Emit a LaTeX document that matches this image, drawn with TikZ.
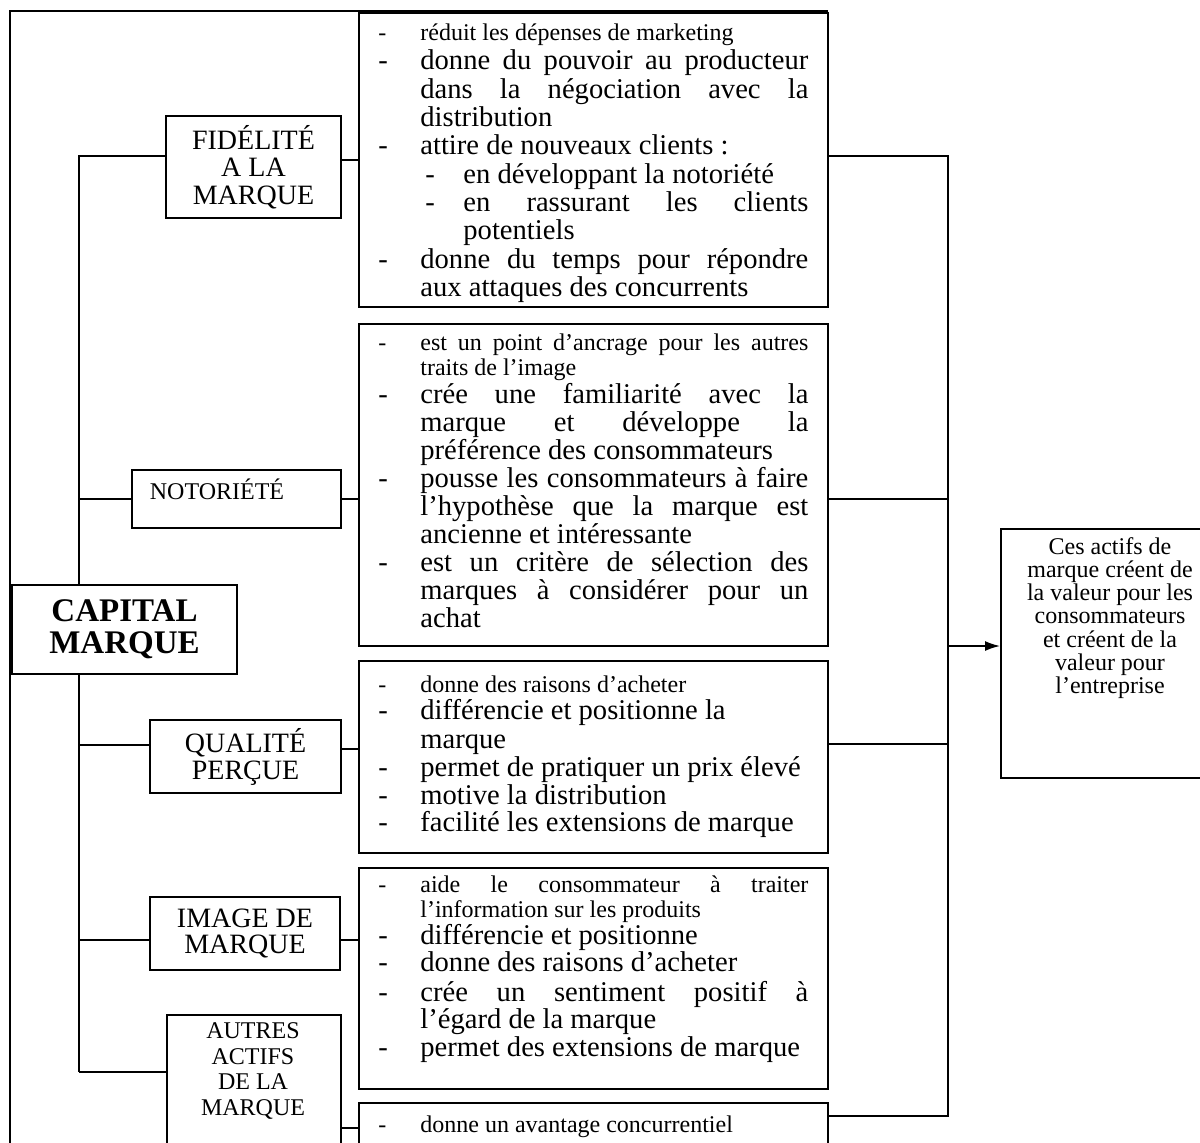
\documentclass[tikz,border=0pt]{standalone}
\usepackage{fontspec}
\setmainfont{Liberation Serif}
\usetikzlibrary{arrows.meta}

% list-line helpers for the text boxes
\newcommand\bxjust[1]{\makebox[194pt][s]{#1}}
\newcommand\bxsjust[1]{\makebox[172.5pt][s]{#1}}
\newcommand\bxdash[1]{\makebox[21pt][l]{-}#1}
\newcommand\bxcont[1]{\hspace*{21pt}#1}
\newcommand\bxsubdash[1]{\hspace*{23.5pt}\makebox[19pt][l]{-}#1}
\newcommand\bxsubcont[1]{\hspace*{42.5pt}#1}

\tikzset{
  frame/.style={line width=0.9pt},
  box/.style={draw, line width=0.8pt, inner sep=0pt, fill=white},
  lbl/.style={box, align=center, font=\fontsize{14}{13.75}\selectfont},
  ln/.style={anchor=base west, inner sep=0pt, font=\fontsize{14.3}{14}\selectfont},
  lns/.style={ln, font=\fontsize{12}{12}\selectfont},
  link/.style={line width=0.8pt},
}

\begin{document}
\begin{tikzpicture}[x=0.5pt, y=-0.5pt]
\useasboundingbox (0,0) rectangle (1200,1142);
\clip (0,0) rectangle (1200,1142);

% outer frame
\draw[frame] (10,1160) -- (10,11) -- (828,11);

% junction points of the two buses
\coordinate (tb) at (79,1072);
\coordinate (bt) at (948,156);
\coordinate (bb) at (948,1116);
\coordinate (bj2) at (948,499);
\coordinate (bj3) at (948,744);
\coordinate (ba) at (948,646);

% detail boxes
\node[box, anchor=north west, minimum width=234.5pt, minimum height=147pt] (b1) at (358,12) {};
\node[box, anchor=north west, minimum width=234.5pt, minimum height=161pt] (b2) at (358,323) {};
\node[box, anchor=north west, minimum width=234.5pt, minimum height=96pt] (b3) at (358,660) {};
\node[box, anchor=north west, minimum width=234.5pt, minimum height=110.5pt] (b4) at (358,867) {};
\node[box, anchor=north west, minimum width=234.5pt, minimum height=34pt] (b5) at (358,1102) {};

% category boxes
\node[lbl, minimum width=87.5pt, minimum height=51pt] (fid) at (253.5,167) {FIDÉLITÉ\\A LA\\MARQUE};
\node[box, minimum width=104.5pt, minimum height=29pt] (not) at (236.5,499) {};
\node[anchor=base, inner sep=0pt, font=\fontsize{12}{12}\selectfont] (notlbl) at (217,499) {NOTORIÉTÉ};
\node[lbl, minimum width=112.5pt, minimum height=44.5pt, font=\bfseries\fontsize{16.5}{16}\selectfont] (cap) at (124.5,629.5) {CAPITAL\\MARQUE};
\node[lbl, minimum width=95.5pt, minimum height=36.5pt, font=\fontsize{14}{13.5}\selectfont] (qual) at (245.5,756.5) {QUALITÉ\\PERÇUE};
\node[lbl, minimum width=95pt, minimum height=36.5pt, font=\fontsize{14}{13}\selectfont] (img) at (245,933.5) {IMAGE DE\\MARQUE};
\node[box, anchor=north west, minimum width=87pt, minimum height=75pt] (aut) at (166,1014) {};
\node[align=center, inner sep=0pt, font=\fontsize{12}{12.75}\selectfont] (autlbl) at (253,1071) {AUTRES\\ACTIFS\\DE LA\\MARQUE};

% result box
\node[box, anchor=north west, minimum width=110pt, minimum height=124.5pt] (val) at (1000,528) {};
\node[align=center, inner sep=0pt, font=\fontsize{12}{11.65}\selectfont] (valtxt) at (1110,618)
  {Ces actifs de\\marque créent de\\la valeur pour les\\consommateurs\\et créent de la\\valeur pour\\l’entreprise};

% left trunk, interrupted by the title box
\draw[link] ([yshift=5.5pt]fid.west) -| (cap.north -| tb);
\draw[link] (cap.south -| tb) -- (tb);

% branches from the trunk
\draw[link] (not.west) -- (not.west -| tb);
\draw[link] ([yshift=5.75pt]qual.west) -- ([yshift=5.75pt]qual.west -| tb);
\draw[link] ([yshift=-3.25pt]img.west) -- ([yshift=-3.25pt]img.west -| tb);
\draw[link] (tb) -- (aut.west |- tb);

% category -> detail links
\draw[link] ([yshift=3.5pt]fid.east) -- ([yshift=3.5pt]fid.east -| b1.west);
\draw[link] (not.east) -- (not.east -| b2.west);
\draw[link] ([yshift=3.75pt]qual.east) -- ([yshift=3.75pt]qual.east -| b3.west);
\draw[link] ([yshift=-3.25pt]img.east) -- ([yshift=-3.25pt]img.east -| b4.west);
\draw[link] ([yshift=-19pt]aut.east) -- ([yshift=-19pt]aut.east -| b5.west);

% right bus and arrow
\draw[link] (b1.east |- bt) -- (bt) -- (bb) -- (b5.east |- bb);
\draw[link] (b2.east |- bj2) -- (bj2);
\draw[link] (b3.east |- bj3) -- (bj3);
\draw[link, -{Latex[length=7.5pt, width=5pt]}] (ba) -- (val.west |- ba);

% box 1 text
\node[lns] (b1a) at (378,40) {\bxdash{réduit les dépenses de marketing}};
\node[ln] (b1b) at (378,69) {\bxdash{\bxjust{donne du pouvoir au producteur}}};
\node[ln] (b1c) at (378,98) {\bxcont{\bxjust{dans la négociation avec la}}};
\node[ln] (b1d) at (378,126) {\bxcont{distribution}};
\node[ln] (b1e) at (378,154) {\bxdash{attire de nouveaux clients :}};
\node[ln] (b1f) at (378,183) {\bxsubdash{en développant la notoriété}};
\node[ln] (b1g) at (378,211) {\bxsubdash{\bxsjust{en rassurant les clients}}};
\node[ln] (b1h) at (378,239) {\bxsubcont{potentiels}};
\node[ln] (b1i) at (378,268) {\bxdash{\bxjust{donne du temps pour répondre}}};
\node[ln] (b1j) at (378,296) {\bxcont{aux attaques des concurrents}};

% box 2 text
\node[lns] (b2a) at (378,350) {\bxdash{\bxjust{est un point d’ancrage pour les autres}}};
\node[lns] (b2b) at (378,375) {\bxcont{traits de l’image}};
\node[ln] (b2c) at (378,403) {\bxdash{\bxjust{crée une familiarité avec la}}};
\node[ln] (b2d) at (378,431) {\bxcont{\bxjust{marque et développe la}}};
\node[ln] (b2e) at (378,459) {\bxcont{préférence des consommateurs}};
\node[ln] (b2f) at (378,487) {\bxdash{\bxjust{pousse les consommateurs à faire}}};
\node[ln] (b2g) at (378,515) {\bxcont{\bxjust{l’hypothèse que la marque est}}};
\node[ln] (b2h) at (378,543) {\bxcont{ancienne et intéressante}};
\node[ln] (b2i) at (378,571) {\bxdash{\bxjust{est un critère de sélection des}}};
\node[ln] (b2j) at (378,599) {\bxcont{\bxjust{marques à considérer pour un}}};
\node[ln] (b2k) at (378,627) {\bxcont{achat}};

% box 3 text
\node[lns] (b3a) at (378,692) {\bxdash{donne des raisons d’acheter}};
\node[ln] (b3b) at (378,719) {\bxdash{différencie et positionne la}};
\node[ln] (b3c) at (378,748) {\bxcont{marque}};
\node[ln] (b3d) at (378,776) {\bxdash{permet de pratiquer un prix élevé}};
\node[ln] (b3e) at (378,804) {\bxdash{motive la distribution}};
\node[ln] (b3f) at (378,831) {\bxdash{facilité les extensions de marque}};

% box 4 text
\node[lns] (b4a) at (378,892) {\bxdash{\bxjust{aide le consommateur à traiter}}};
\node[lns] (b4b) at (378,917) {\bxcont{l’information sur les produits}};
\node[ln] (b4c) at (378,944) {\bxdash{différencie et positionne}};
\node[ln] (b4d) at (378,971) {\bxdash{donne des raisons d’acheter}};
\node[ln] (b4e) at (378,1001) {\bxdash{\bxjust{crée un sentiment positif à}}};
\node[ln] (b4f) at (378,1028) {\bxcont{l’égard de la marque}};
\node[ln] (b4g) at (378,1056) {\bxdash{permet des extensions de marque}};

% box 5 text
\node[lns] (b5a) at (378,1132) {\bxdash{donne un avantage concurrentiel}};
\end{tikzpicture}
\end{document}
